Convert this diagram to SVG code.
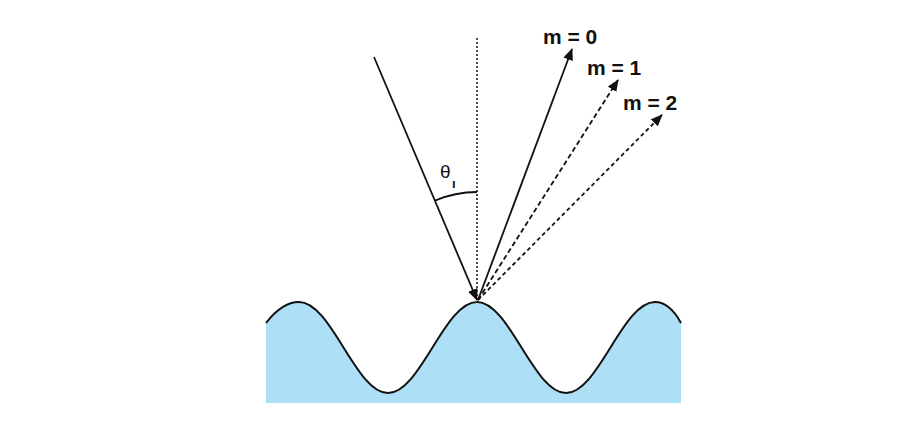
<svg xmlns="http://www.w3.org/2000/svg" width="924" height="440" viewBox="0 0 924 440">
<style>
.lbl{font-family:"Liberation Sans",Arial,sans-serif;font-weight:bold;font-size:21px;fill:#111}
.ray{stroke:#111;stroke-width:1.8;fill:none}
</style>
<defs>
<marker id="ah" viewBox="0 0 12 10" refX="11" refY="5" markerWidth="12" markerHeight="10" markerUnits="userSpaceOnUse" orient="auto">
<path d="M0,0 L12,5 L0,10 Z" fill="#111"/>
</marker>
</defs>
<rect width="924" height="440" fill="#fff"/>
<g id="surface">
<path d="M266,323 C276,310 288,302 299,302 C331.4,302 355.6,393 388,393 C420.4,393 444.6,302 477,302 C509.4,302 533.6,393 566,393 C598.4,393 622.6,302 655,302 C666,302 675,312 681,323 L681,403 L266,403 Z" fill="#ade0f7"/>
<path d="M266,323 C276,310 288,302 299,302 C331.4,302 355.6,393 388,393 C420.4,393 444.6,302 477,302 C509.4,302 533.6,393 566,393 C598.4,393 622.6,302 655,302 C666,302 675,312 681,323" fill="none" stroke="#111" stroke-width="2"/>
</g>
<g id="connectors">
<line id="normal" x1="477" y1="38" x2="477" y2="300" stroke="#111" stroke-width="1.5" stroke-dasharray="2,2"/>
<line id="incident" class="ray" x1="374" y1="57" x2="477" y2="300" marker-end="url(#ah)"/>
<line id="m0" class="ray" x1="478" y1="300" x2="572" y2="49" marker-end="url(#ah)"/>
<line id="m1" class="ray" x1="478" y1="300" x2="618" y2="80" stroke-dasharray="5,3" marker-end="url(#ah)"/>
<line id="m2" class="ray" x1="478" y1="300" x2="662" y2="115" stroke-dasharray="4,3" marker-end="url(#ah)"/>
<path id="angle" d="M434.9,200.6 A108,108 0 0 1 477,192" fill="none" stroke="#111" stroke-width="1.8"/>
</g>
<g id="labels">
<text x="440" y="178" style="font-family:'Liberation Sans',Arial,sans-serif;font-size:19px;fill:#111">θ<tspan x="452" y="188" style="font-size:13px;font-weight:bold">ı</tspan></text>
<text class="lbl" x="543" y="44">m = 0</text>
<text class="lbl" x="587" y="75">m = 1</text>
<text class="lbl" x="623" y="110">m = 2</text>
</g>
</svg>
